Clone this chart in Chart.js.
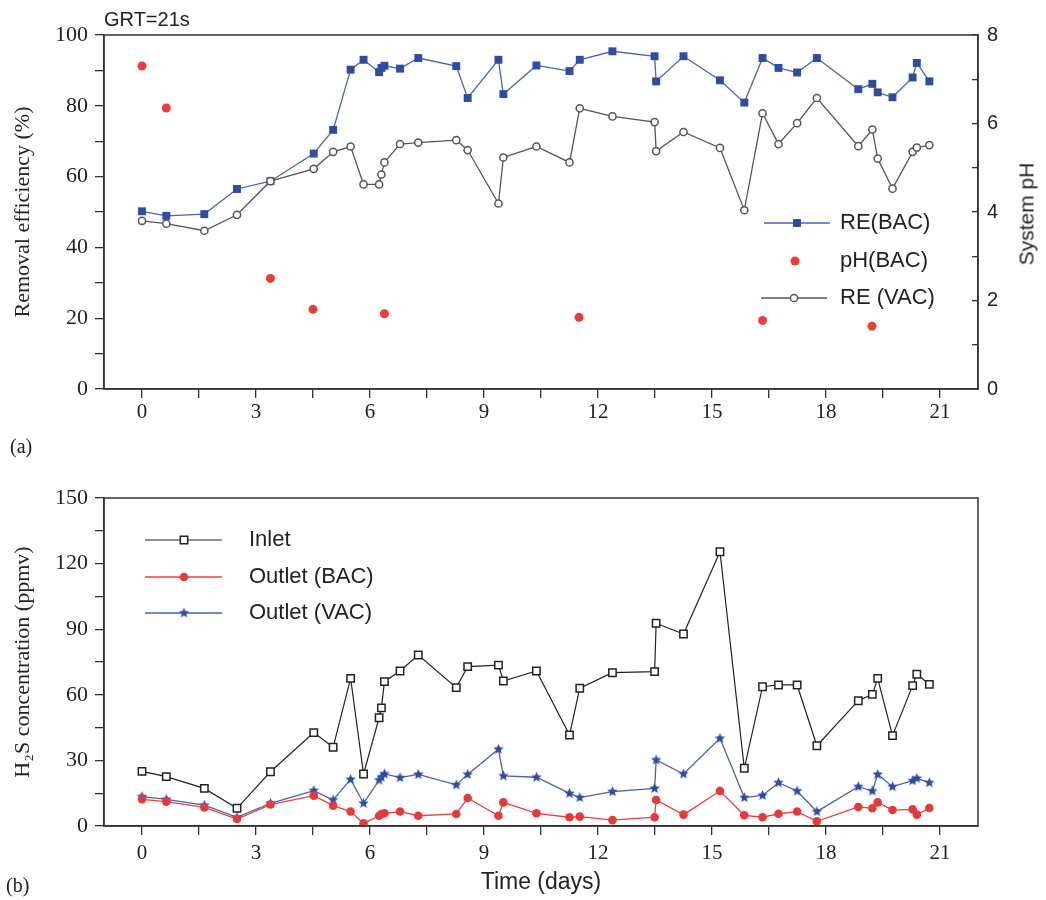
<!DOCTYPE html>
<html><head><meta charset="utf-8">
<script src="https://cdn.jsdelivr.net/npm/chart.js@4.4.1/dist/chart.umd.min.js"></script>
<style>
html,body{margin:0;padding:0;background:#fff;}
#wrap{position:relative;width:1046px;height:900px;overflow:hidden;background:#fff;}
canvas{position:absolute;left:0;}
.lbl{position:absolute;white-space:nowrap;color:#222;}
.rot{position:absolute;white-space:nowrap;color:#222;transform:translate(-50%,-50%) rotate(-90deg);}
</style></head><body>
<div id="wrap">
<canvas id="c1" width="1046" height="440" style="top:0;width:1046px;height:440px"></canvas>
<canvas id="c2" width="1046" height="440" style="top:460px;width:1046px;height:440px"></canvas>
<div class="lbl" style="left:104px;top:9px;font:20px 'Liberation Sans',Arial,sans-serif;line-height:20px">GRT=21s</div>
<div class="lbl" style="left:10px;top:436px;font:20px 'Liberation Serif',serif;line-height:20px">(a)</div>
<div class="lbl" style="left:6px;top:875px;font:20px 'Liberation Serif',serif;line-height:20px">(b)</div>
<div class="rot" style="left:1026px;top:214px;font:21px 'Liberation Sans',Arial,sans-serif;line-height:21px">System pH</div>
</div>
<script>
// ---------------- data ----------------
const days = [0,0.64,1.64,2.5,3.38,4.52,5.03,5.49,5.83,6.24,6.30,6.38,6.79,7.27,8.27,8.57,9.38,9.51,10.38,11.25,11.52,12.38,13.49,13.53,14.25,15.21,15.85,16.33,16.75,17.24,17.76,18.85,19.22,19.36,19.75,20.28,20.39,20.72];
const reBAC = [50.2,48.9,49.4,56.5,58.7,66.5,73.2,90.2,93.0,89.5,90.7,91.3,90.5,93.5,91.2,82.2,93.0,83.3,91.4,89.8,93.0,95.4,94.0,86.9,94.0,87.2,80.9,93.5,90.7,89.4,93.5,84.7,86.2,83.8,82.4,88.0,92.1,86.9];
const reVAC = [47.5,46.7,44.7,49.2,58.7,62.2,67.0,68.5,57.8,57.8,60.6,64.0,69.2,69.6,70.3,67.5,52.4,65.4,68.5,64.0,79.3,77.0,75.4,67.2,72.6,68.1,50.5,77.9,69.2,75.1,82.2,68.6,73.3,65.1,56.6,67.0,68.2,68.9];
const phDays = [0,0.64,3.38,4.5,6.38,11.5,16.33,19.21];
const phBAC = [7.3,6.35,2.5,1.8,1.7,1.62,1.55,1.42];
const inlet = [25,22.6,17.2,8.1,24.8,42.7,36.0,67.5,23.8,49.5,54.0,66.0,70.9,78.2,63.3,72.9,73.6,66.3,70.9,41.6,63.0,70.1,70.6,92.7,87.8,125.4,26.4,63.7,64.5,64.5,36.7,57.3,60.2,67.5,41.3,64.2,69.4,64.8];
const outBAC = [12.2,11.1,8.5,3.2,9.8,13.9,9.3,6.6,1.2,4.7,5.5,5.8,6.6,4.7,5.5,12.8,4.7,10.8,5.8,4.0,4.3,2.7,4.0,11.9,5.2,16.0,4.9,4.0,5.6,6.6,2.1,8.7,8.1,10.8,7.3,7.6,5.2,8.2];
const outVAC = [13.4,12.2,9.5,4.0,10.4,16.2,11.9,21.3,10.4,21.0,22.3,23.8,22.1,23.6,18.8,23.6,35.1,22.9,22.3,14.9,13.0,15.7,17.2,30.2,23.8,40.1,13.0,14.0,19.8,16.0,6.6,18.0,16.0,23.6,18.0,20.7,21.8,19.8];
const xTickVals = [0,1.5,3,4.5,6,7.5,9,10.5,12,13.5,15,16.5,18,19.5,21];

// ---------------- helpers ----------------
const serif = "'Liberation Serif','Times New Roman',serif";
const sans = "'Liberation Sans',Arial,sans-serif";
const axisColor = '#333';
const pts = (xs, ys) => xs.map((x, i) => ({x: x, y: ys[i]}));

function starImg(r, color) {
  const c = document.createElement('canvas');
  const s = Math.ceil(r * 2 + 2);
  c.width = s; c.height = s;
  const g = c.getContext('2d');
  g.fillStyle = color;
  g.beginPath();
  for (let i = 0; i < 10; i++) {
    const a = -Math.PI / 2 + i * Math.PI / 5;
    const rr = i % 2 ? r * 0.45 : r;
    g.lineTo(s / 2 + rr * Math.cos(a), s / 2 + rr * Math.sin(a));
  }
  g.closePath(); g.fill();
  return c;
}

const framePlugin = {
  id: 'frame',
  afterDraw(chart) {
    const {ctx, chartArea: a} = chart;
    ctx.save();
    ctx.strokeStyle = axisColor; ctx.lineWidth = 1.5;
    ctx.strokeRect(a.left, a.top, a.right - a.left, a.bottom - a.top);
    ctx.restore();
  }
};

const legendPlugin = {
  id: 'lineLegend',
  afterDraw(chart, args, opts) {
    const ctx = chart.ctx;
    ctx.save();
    (opts.items || []).forEach(it => {
      const ds = chart.data.datasets[it.ds];
      if (ds.showLine !== false) {
        ctx.strokeStyle = ds.borderColor; ctx.lineWidth = ds.borderWidth;
        ctx.beginPath(); ctx.moveTo(it.x1, it.y); ctx.lineTo(it.x2, it.y); ctx.stroke();
      }
      ctx.fillStyle = ds.pointBackgroundColor; ctx.strokeStyle = ds.pointBorderColor;
      ctx.lineWidth = ds.pointBorderWidth;
      Chart.helpers.drawPoint(ctx, {pointStyle: ds.pointStyle, radius: ds.pointRadius, borderWidth: ds.pointBorderWidth, rotation: 0}, it.px, it.y);
      ctx.fillStyle = '#222'; ctx.font = opts.font;
      ctx.textBaseline = 'middle'; ctx.textAlign = 'left';
      ctx.fillText(ds.label, it.tx, it.y);
    });
    ctx.restore();
  }
};

function xAxis(height, pad, title) {
  return {
    type: 'linear', min: -1, max: 22,
    afterBuildTicks: s => { s.ticks = xTickVals.map(v => ({value: v})); },
    afterFit: s => { s.height = height; },
    ticks: {autoSkip: false, maxRotation: 0, padding: pad, color: '#222',
      font: {family: serif, size: 21},
      callback: v => (v % 3 === 0 ? String(v) : '')},
    grid: {drawOnChartArea: false, tickLength: 9, color: axisColor, lineWidth: 1.3},
    border: {color: axisColor, width: 1.5},
    title: title ? {display: true, text: title, color: '#222', font: {family: sans, size: 23}, padding: {top: 0, bottom: 4}} : {display: false}
  };
}

Chart.defaults.animation = false;

// ---------------- chart (a) ----------------
new Chart(document.getElementById('c1'), {
  type: 'line',
  data: {datasets: [
    {label: 'pH(BAC)', data: pts(phDays, phBAC), yAxisID: 'y1', showLine: false,
     borderColor: '#ee3b3b', borderWidth: 0, pointStyle: 'circle', pointRadius: 4.5,
     pointBackgroundColor: '#ee3b3b', pointBorderColor: '#ee3b3b', pointBorderWidth: 0},
    {label: 'RE (VAC)', data: pts(days, reVAC), yAxisID: 'y',
     borderColor: '#555', borderWidth: 1.3, tension: 0, pointStyle: 'circle', pointRadius: 3.6,
     pointBackgroundColor: '#fff', pointBorderColor: '#555', pointBorderWidth: 1.5},
    {label: 'RE(BAC)', data: pts(days, reBAC), yAxisID: 'y',
     borderColor: '#4762b6', borderWidth: 1.3, tension: 0, pointStyle: 'rect', pointRadius: 5.6,
     pointBackgroundColor: '#2e4ca2', pointBorderColor: '#2e4ca2', pointBorderWidth: 0}
  ]},
  options: {
    responsive: false,
    layout: {padding: {top: 35, left: 0, right: 0, bottom: 0}},
    plugins: {
      legend: {display: false}, tooltip: {enabled: false},
      lineLegend: {font: '22px ' + sans, items: [
        {ds: 2, x1: 764, x2: 830, px: 797, y: 223, tx: 840},
        {ds: 0, x1: 0, x2: 0, px: 795, y: 261, tx: 840},
        {ds: 1, x1: 761, x2: 827, px: 794, y: 298, tx: 840}
      ]}
    },
    scales: {
      x: xAxis(51, 2, null),
      y: {
        position: 'left', min: 0, max: 100,
        afterFit: s => { s.width = 104; },
        ticks: {stepSize: 10, padding: 7, color: '#222', font: {family: serif, size: 22},
          callback: v => (v % 20 === 0 ? String(v) : '')},
        grid: {drawOnChartArea: false, tickLength: 9, color: axisColor, lineWidth: 1.3},
        border: {color: axisColor, width: 1.5},
        title: {display: true, text: 'Removal efficiency (%)', color: '#222', font: {family: serif, size: 22}, padding: {top: 10, bottom: 0}}
      },
      y1: {
        position: 'right', min: 0, max: 8,
        afterFit: s => { s.width = 68; },
        ticks: {stepSize: 1, padding: 15, color: '#222', font: {family: sans, size: 20},
          callback: v => (v % 2 === 0 ? String(v) : '')},
        grid: {drawOnChartArea: false, tickLength: -6, color: axisColor, lineWidth: 1.3},
        border: {color: axisColor, width: 1.5}
      }
    }
  },
  plugins: [framePlugin, legendPlugin]
});

// ---------------- chart (b) ----------------
const star = starImg(5.5, '#2e4ca2');
new Chart(document.getElementById('c2'), {
  type: 'line',
  data: {datasets: [
    {label: 'Inlet', data: pts(days, inlet),
     borderColor: '#222', borderWidth: 1.2, tension: 0, pointStyle: 'rect', pointRadius: 5.2,
     pointBackgroundColor: '#fff', pointBorderColor: '#222', pointBorderWidth: 1.5},
    {label: 'Outlet (BAC)', data: pts(days, outBAC),
     borderColor: '#e8403f', borderWidth: 1.3, tension: 0, pointStyle: 'circle', pointRadius: 4.3,
     pointBackgroundColor: '#e63a3a', pointBorderColor: '#e63a3a', pointBorderWidth: 0},
    {label: 'Outlet (VAC)', data: pts(days, outVAC),
     borderColor: '#4660b4', borderWidth: 1.3, tension: 0, pointStyle: star, pointRadius: 5.5,
     pointBackgroundColor: '#2e4ca2', pointBorderColor: '#2e4ca2', pointBorderWidth: 0}
  ]},
  options: {
    responsive: false,
    layout: {padding: {top: 38, left: 0, right: 68, bottom: 0}},
    plugins: {
      legend: {display: false}, tooltip: {enabled: false},
      lineLegend: {font: '22px ' + sans, items: [
        {ds: 0, x1: 145, x2: 222, px: 184, y: 80, tx: 249},
        {ds: 1, x1: 145, x2: 222, px: 184, y: 117, tx: 249},
        {ds: 2, x1: 145, x2: 222, px: 184, y: 153, tx: 249}
      ]}
    },
    scales: {
      x: xAxis(74, 6, 'Time (days)'),
      y: {
        position: 'left', min: 0, max: 150,
        afterFit: s => { s.width = 104; },
        ticks: {stepSize: 15, padding: 7, color: '#222', font: {family: serif, size: 22},
          callback: v => (v % 30 === 0 ? String(v) : '')},
        grid: {drawOnChartArea: false, tickLength: 9, color: axisColor, lineWidth: 1.3},
        border: {color: axisColor, width: 1.5},
        title: {display: true, text: 'H\u2082S concentration (ppmv)', color: '#222', font: {family: serif, size: 22}, padding: {top: 10, bottom: 0}}
      }
    }
  },
  plugins: [framePlugin, legendPlugin]
});
</script>
</body></html>
